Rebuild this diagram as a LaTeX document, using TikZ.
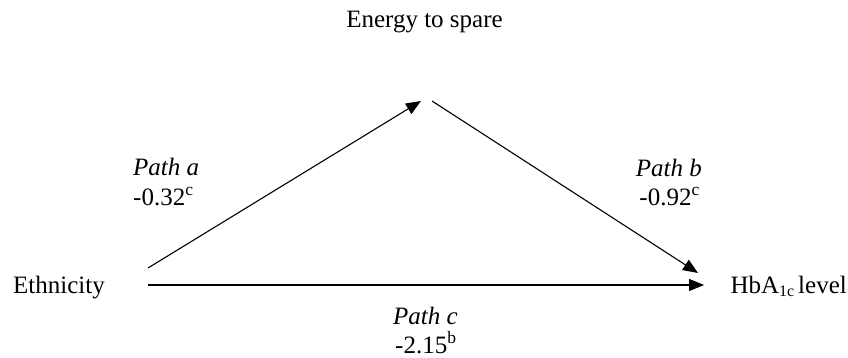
\documentclass[tikz,border=0pt]{standalone}
\usepackage{fontspec}
\setmainfont{Liberation Serif}
\usetikzlibrary{arrows.meta}
\begin{document}
\begin{tikzpicture}[x=1pt,y=-1pt,
  lbl/.style={font=\fontsize{25}{29}\selectfont, inner sep=0pt},
  conn/.style={line width=1.1pt, -{Triangle[length=15pt,width=12pt]}}]
\useasboundingbox (0,0) rectangle (848,358);
\node[lbl, anchor=base] (es) at (424.5,28) {Energy to spare};
\node[lbl, anchor=base west] (eth) at (13,293) {Ethnicity};
\node[lbl, anchor=base east] (hba) at (847,293) {HbA\raisebox{-3pt}{\fontsize{16}{16}\selectfont 1c}\hspace{4pt}level};
\coordinate (aS) at (148,268);
\coordinate (aE) at (421,101);
\coordinate (bS) at (432,101);
\coordinate (bE) at (698,273);
\coordinate (cS) at (148,285);
\coordinate (cE) at (704,285);
\draw[conn] (aS) -- (aE);
\draw[conn] (bS) -- (bE);
\draw[conn] (cS) -- (cE);
\node[lbl, anchor=base west] (pa) at (133,176) {\itshape Path a};
\node[lbl, anchor=base west] (va) at (133,205) {-0.32\textsuperscript{c}};
\node[lbl, anchor=base east] (pb) at (702,177) {\itshape Path b};
\node[lbl, anchor=base east] (vb) at (700,205) {-0.92\textsuperscript{c}};
\node[lbl, anchor=base west] (pc) at (393,324) {\itshape Path c};
\node[lbl, anchor=base west] (vc) at (395,353) {-2.15\textsuperscript{b}};
\end{tikzpicture}
\end{document}
